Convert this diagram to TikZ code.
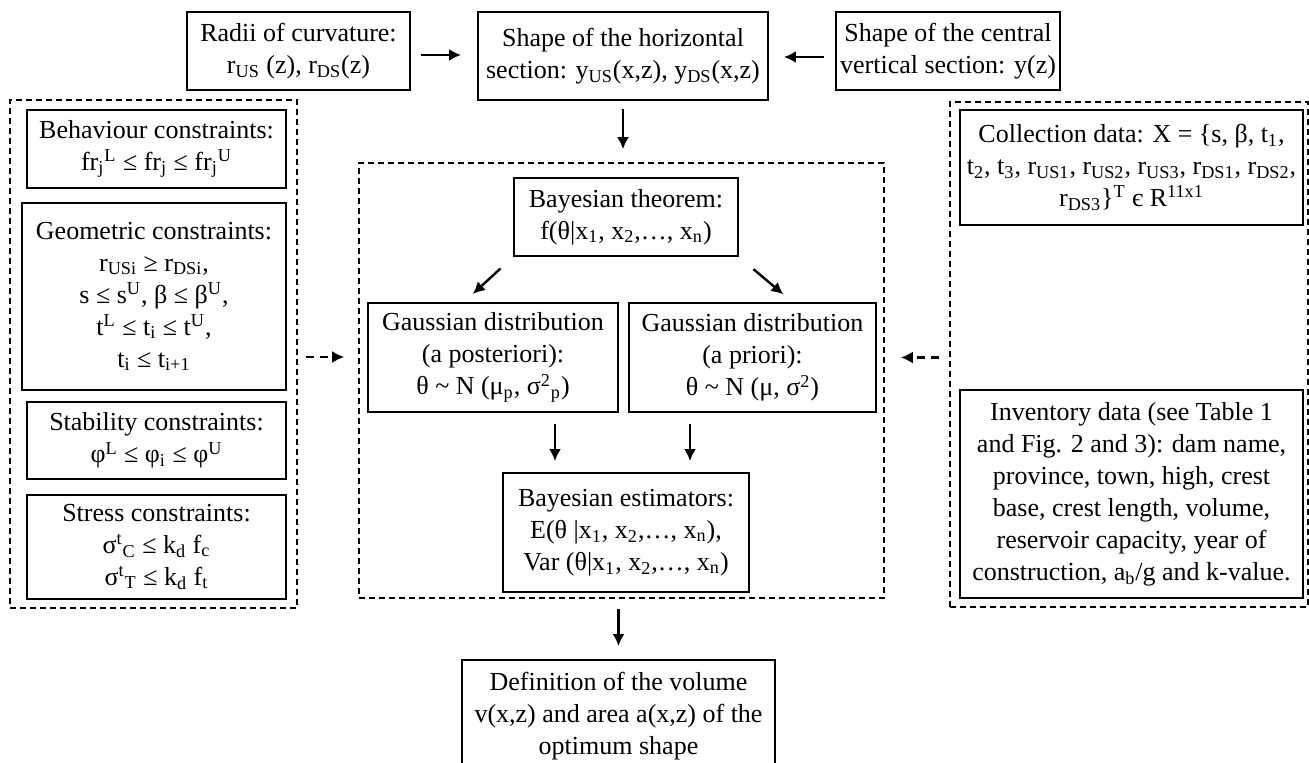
\documentclass[tikz,border=0pt]{standalone}
\usepackage{fontspec}
\setmainfont{Liberation Serif}
\usetikzlibrary{arrows.meta}
\tikzset{
  box/.style={draw, line width=0.9pt, align=center, inner sep=2pt,
    font=\fontsize{13}{16}\selectfont},
  dashbox/.style={draw, line width=0.8pt, dash pattern=on 3pt off 2pt},
  arr/.style={line width=1.2pt, -{Latex[length=6pt,width=6pt]}},
  darr/.style={arr, dash pattern=on 4pt off 3pt}
}
\begin{document}
\begin{tikzpicture}[x=0.5pt,y=-0.5pt]
\useasboundingbox (0,0) rectangle (1309,763);
\clip (0,0) rectangle (1309,763);

% top row
\node[box, minimum width=111.5pt, minimum height=39pt] (radii) at (298.5,51)
  {Radii of curvature:\\ r\textsubscript{US} (z), r\textsubscript{DS}(z)};
\node[box, minimum width=145pt, minimum height=44pt] (horiz) at (623,56)
  {Shape of the horizontal\\ section: y\textsubscript{US}(x,z), y\textsubscript{DS}(x,z)};
\node[box, minimum width=112pt, minimum height=39pt] (central) at (948,51)
  {Shape of the central\\ vertical section: y(z)};

% constraints
\node[dashbox, minimum width=143.5pt, minimum height=254pt] (cons) at (153.5,354) {};
\node[box, minimum width=129.5pt, minimum height=39pt] (behav) at (156.5,149)
  {Behaviour constraints:\\ fr\textsubscript{j}\textsuperscript{L} ≤ fr\textsubscript{j} ≤ fr\textsubscript{j}\textsuperscript{U}};
\node[box, minimum width=132pt, minimum height=93.5pt] (geom) at (154,296.5)
  {Geometric constraints:\\ r\textsubscript{USi} ≥ r\textsubscript{DSi},\\
   s ≤ s\textsuperscript{U}, β ≤ β\textsuperscript{U},\\
   t\textsuperscript{L} ≤ t\textsubscript{i} ≤ t\textsuperscript{U},\\
   t\textsubscript{i} ≤ t\textsubscript{i+1}};
\node[box, minimum width=129.5pt, minimum height=38.5pt] (stab) at (156.5,440.5)
  {Stability constraints:\\ φ\textsuperscript{L} ≤ φ\textsubscript{i} ≤ φ\textsuperscript{U}};
\node[box, minimum width=129.5pt, minimum height=52pt] (stress) at (156.5,547)
  {Stress constraints:\\ σ\textsuperscript{t}\textsubscript{C} ≤ k\textsubscript{d} f\textsubscript{c}\\
   σ\textsuperscript{t}\textsubscript{T} ≤ k\textsubscript{d} f\textsubscript{t}};

% bayesian part
\node[dashbox, minimum width=262.5pt, minimum height=217.5pt] (bayesian) at (621.5,380.5) {};
\node[box, minimum width=112pt, minimum height=39pt] (theorem) at (626,217)
  {Bayesian theorem:\\ f(θ|x\textsubscript{1}, x\textsubscript{2},…, x\textsubscript{n})};
\node[box, minimum width=125pt, minimum height=54.5pt] (post) at (493,357.5)
  {Gaussian distribution\\ (a posteriori):\\ θ \textasciitilde{} N (μ\textsubscript{p}, σ\textsuperscript{2}\textsubscript{p})};
\node[box, minimum width=123.5pt, minimum height=54.5pt] (prior) at (752.5,357.5)
  {Gaussian distribution\\ (a priori):\\ θ \textasciitilde{} N (μ, σ\textsuperscript{2})};
\node[box, minimum width=123pt, minimum height=59.5pt] (estim) at (626,532.5)
  {Bayesian estimators:\\ E(θ |x\textsubscript{1}, x\textsubscript{2},…, x\textsubscript{n}),\\
   Var (θ|x\textsubscript{1}, x\textsubscript{2},…, x\textsubscript{n})};
\node[box, minimum width=156.5pt, minimum height=56pt] (volume) at (618.5,716)
  {Definition of the volume\\ v(x,z) and area a(x,z) of the\\ optimum shape};

% data
\node[dashbox, minimum width=179pt, minimum height=252.5pt] (data) at (1129,354.5) {};
\node[box, minimum width=171.5pt, minimum height=57.5pt] (collect) at (1131.5,167.5)
  {Collection data: X = \{s, β, t\textsubscript{1},\\
   t\textsubscript{2}, t\textsubscript{3}, r\textsubscript{US1}, r\textsubscript{US2}, r\textsubscript{US3}, r\textsubscript{DS1}, r\textsubscript{DS2},\\
   r\textsubscript{DS3}\}\textsuperscript{T} є R\textsuperscript{11x1}};
\node[box, minimum width=171.5pt, minimum height=104pt] (invent) at (1131.5,494)
  {Inventory data (see Table 1\\ and Fig. 2 and 3): dam name,\\ province, town, high, crest\\
   base, crest length, volume,\\ reservoir capacity, year of\\ construction, a\textsubscript{b}/g and k-value.};

% arrows
\draw[arr, shorten <=5pt, shorten >=8pt] ([yshift=-2pt]radii.east) -- ([yshift=-2pt]radii.east -| horiz.west);
\draw[arr, shorten <=5.5pt, shorten >=7.5pt] ([yshift=-3pt]central.west) -- ([yshift=-3pt]central.west -| horiz.east);
\draw[arr, shorten <=4pt, shorten >=6.5pt] (horiz.south) -- (horiz.south |- bayesian.north);
\draw[arr, shorten <=8.5pt, shorten >=6pt] (theorem.south west) -- ([xshift=-14.5pt]post.north);
\draw[arr, shorten <=9.5pt, shorten >=6pt] (theorem.south east) -- ([xshift=20pt]prior.north);
\draw[arr, shorten <=5.5pt, shorten >=5.5pt] ([xshift=31pt]post.south) -- ([xshift=-35.5pt]estim.north);
\draw[arr, shorten <=5.5pt, shorten >=5.5pt] ([xshift=-31.25pt]prior.south) -- ([xshift=32pt]estim.north);
\draw[arr, shorten <=5pt, shorten >=6.5pt] (bayesian.south -| volume.north) -- (volume.north);
\draw[darr, shorten <=4pt, shorten >=7pt] ([yshift=-1.5pt]cons.east) -- ([yshift=-1.5pt]cons.east -| bayesian.west);
\draw[darr, shorten <=5pt, shorten >=8pt] ([yshift=-1.5pt]data.west) -- ([yshift=-1.5pt]data.west -| bayesian.east);
\end{tikzpicture}
\end{document}
